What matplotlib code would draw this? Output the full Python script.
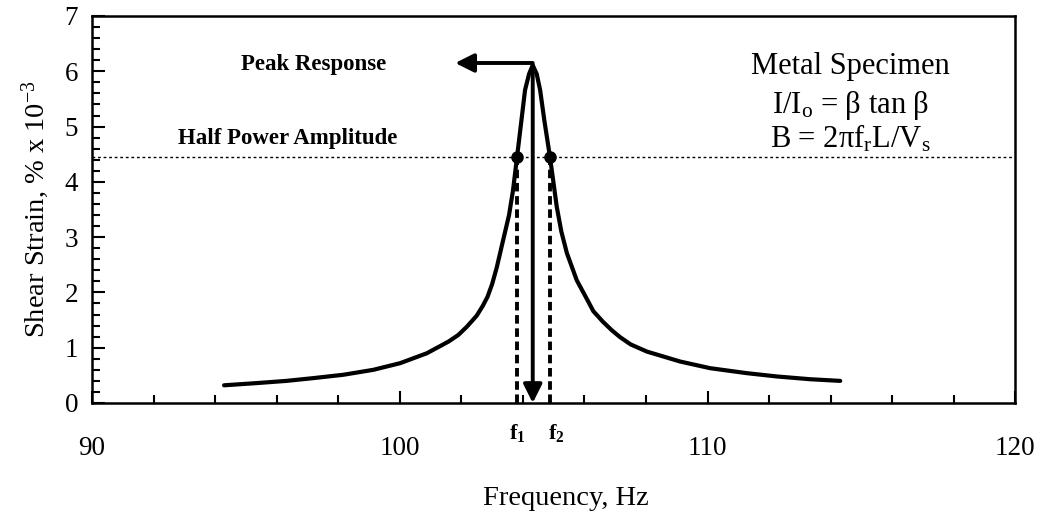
"""
Resonant column response curve: shear strain vs frequency,
with half-power bandwidth markers (f1, f2) and peak response arrows.
"""

import numpy as np
import matplotlib
matplotlib.use("Agg")
import matplotlib.pyplot as plt
from matplotlib.ticker import MultipleLocator

# ── Data ─────────────────────────────────────────────────────────────────────
freq_hz = [94.29, 95.35, 96.32, 97.19, 98.16, 99.14, 100.01, 100.88, 101.58,
           101.90, 102.18, 102.50, 102.70, 102.85, 103.00, 103.15, 103.36,
           103.55, 103.68, 103.81, 103.95, 104.07, 104.20, 104.32, 104.45,
           104.56, 104.70, 104.88, 105.10, 105.25, 105.43, 105.60, 105.75,
           106.08, 106.29, 106.60, 106.90, 107.16, 107.50, 108.03, 109.11,
           110.08, 111.27, 112.25, 113.33, 114.31]
strain = [0.32, 0.36, 0.40, 0.45, 0.51, 0.60, 0.72, 0.90, 1.11,
          1.23, 1.38, 1.58, 1.76, 1.92, 2.15, 2.45, 2.95,
          3.40, 3.85, 4.45, 5.10, 5.66, 5.95, 6.11, 5.95,
          5.66, 5.10, 4.45, 3.55, 3.10, 2.71, 2.45, 2.22,
          1.88, 1.66, 1.47, 1.31, 1.19, 1.06, 0.93, 0.75,
          0.63, 0.54, 0.48, 0.43, 0.40]

peak_f = 104.32
peak_val = 6.11
half_power = 4.45
f1 = 103.81
f2 = 104.88
arrow_tail_f = 101.8

x_ticks = [90, 100, 110, 120]
y_ticks = [0, 1, 2, 3, 4, 5, 6, 7]

# ── Style ────────────────────────────────────────────────────────────────────
plt.rcParams.update({
    "font.family": ["Liberation Serif", "DejaVu Serif"],
    "mathtext.fontset": "custom",
    "mathtext.rm": "Liberation Serif",
    "mathtext.it": "Liberation Serif:italic",
    "mathtext.bf": "Liberation Serif:bold",
})

fig = plt.figure(figsize=(10.54, 5.16), dpi=100)
ax = fig.add_axes([0.0873, 0.219, 0.876, 0.750])

# half-power line
ax.axhline(half_power, color="black", lw=1.0, linestyle=(0, (2, 2)))

# f1 / f2 dashed drops
for f in (f1, f2):
    ax.plot([f, f], [0, half_power], color="black", lw=2.8,
            linestyle=(0, (2.2, 1.2)), zorder=3)
ax.plot([f1, f2], [half_power, half_power], "o", color="black",
        ms=8, zorder=5)

# response curve
ax.plot(freq_hz, strain, color="black", lw=3.0, solid_joinstyle="round",
        solid_capstyle="round", zorder=4)

# peak arrows
arrow_kw = dict(arrowstyle="-|>", color="black", lw=2.8,
                mutation_scale=28, shrinkA=0, shrinkB=0)
ax.annotate("", xy=(peak_f, 0.0), xytext=(peak_f, peak_val),
            arrowprops=arrow_kw, zorder=6)
ax.annotate("", xy=(arrow_tail_f, peak_val + 0.04), xytext=(peak_f, peak_val + 0.04),
            arrowprops=arrow_kw, zorder=6)

# ── Axes ─────────────────────────────────────────────────────────────────────
ax.set_xlim(90, 120)
ax.set_ylim(0, 7)
ax.set_xticks(x_ticks)
ax.set_yticks(y_ticks)
ax.xaxis.set_minor_locator(MultipleLocator(2))
ax.yaxis.set_minor_locator(MultipleLocator(0.2))
ax.tick_params(which="both", direction="in", top=False, right=False,
               width=1.5, labelsize=19.5)
ax.tick_params(axis="x", which="major", length=9, pad=24)
ax.tick_params(axis="x", which="minor", length=6)
ax.tick_params(axis="y", which="major", length=9, pad=10)
ax.tick_params(axis="y", which="minor", length=6)
for sp in ax.spines.values():
    sp.set_linewidth(1.8)

ax.set_xlabel("Frequency, Hz", fontsize=20.5, labelpad=12)
ax.xaxis.set_label_coords(0.513, -0.215)
ax.set_ylabel(r"Shear Strain, % x 10$^{-3}$", fontsize=20.5, labelpad=10)

# ── Annotations ──────────────────────────────────────────────────────────────
ax.text(97.21, 6.13, "Peak Response", fontsize=16.5, fontweight="bold",
        ha="center", va="center")
ax.text(96.37, 4.79, "Half Power Amplitude", fontsize=16.5, fontweight="bold",
        ha="center", va="center")

ax.text(f1, -0.55, r"f$_\mathbf{1}$", fontsize=16, fontweight="bold",
        ha="center", va="center")
ax.text(f2 + 0.2, -0.55, r"f$_\mathbf{2}$", fontsize=16, fontweight="bold",
        ha="center", va="center")

ax.text(114.65, 6.08, "Metal Specimen", fontsize=22, ha="center", va="center")
ax.text(114.65, 5.38, r"I/I$_\mathrm{o}$ = β tan β", fontsize=22,
        ha="center", va="center")
ax.text(114.65, 4.78, r"B = 2πf$_\mathrm{r}$L/V$_\mathrm{s}$", fontsize=22,
        ha="center", va="center")

fig.savefig("out.png", dpi=100)
